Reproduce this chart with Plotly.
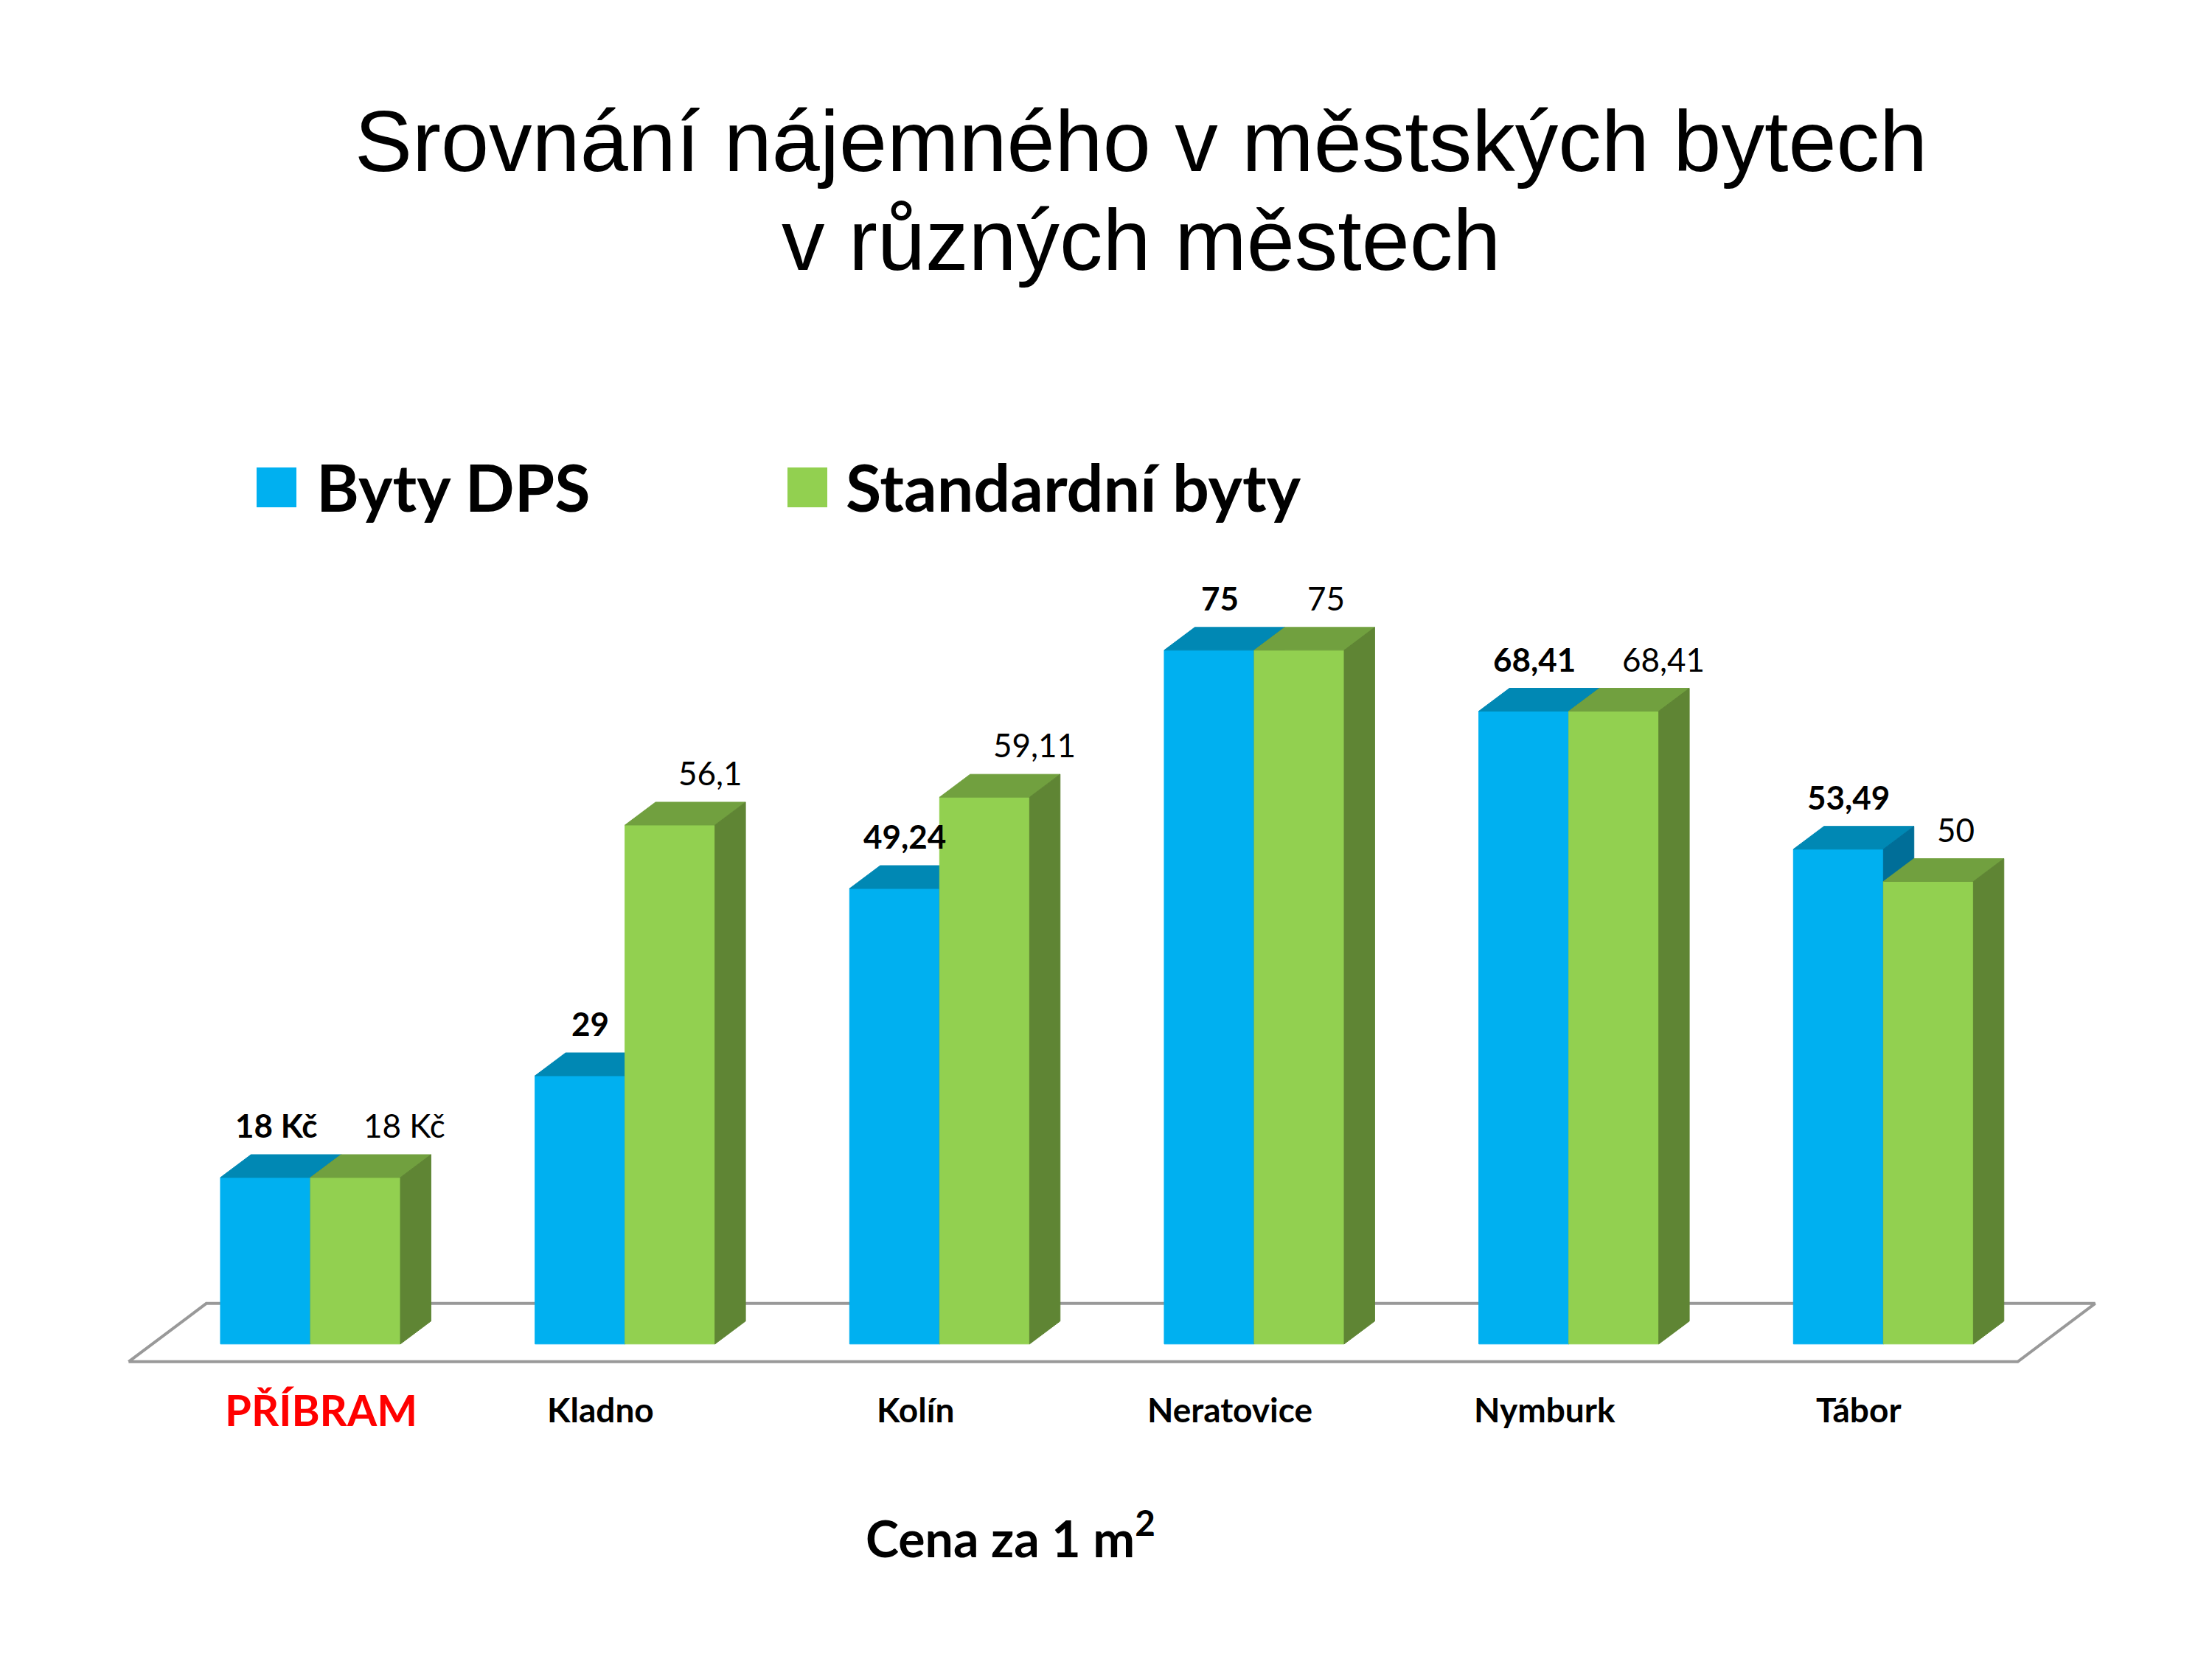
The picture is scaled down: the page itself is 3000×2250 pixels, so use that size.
import plotly.graph_objects as go

# data
cities = ['PŘÍBRAM', 'Kladno', 'Kolín', 'Neratovice', 'Nymburk', 'Tábor']
dps = [18, 29, 49.24, 75, 68.41, 53.49]
standard = [18, 56.1, 59.11, 75, 68.41, 50]
series_names = ['Byty DPS', 'Standardní byty']
unit_first = ' Kč'   # only the Příbram labels carry the unit
title_lines = ['Srovnání nájemného v městských bytech', 'v různých městech']
axis_title = 'Cena za 1 m<sup>2</sup>'

# colours: front, top, side
blue = ['#00B0F0', '#0088B4', '#006E98']
green = ['#92D050', '#71A03F', '#5F8534']

W = 0.286      # bar width in category units
DX = 0.097     # depth offset (x, categories)
DY = 2.47      # depth offset (y, value units)
XR = [-0.75, 5.85]
YR = [-4, 82]
ML, MR, MT, MB = 93, 91, 786, 385
H = 2250


def lab(v, i):
    s = ('%g' % v).replace('.', ',')
    return s + unit_first if i == 0 else s


def poly_trace(polys, color):
    xs, ys = [], []
    for p in polys:
        for (a, b) in p + [p[0]]:
            xs.append(a)
            ys.append(b)
        xs.append(None)
        ys.append(None)
    return go.Scatter(x=xs, y=ys, mode='lines', fill='toself', fillcolor=color,
                      line=dict(color=color, width=1), hoverinfo='skip', showlegend=False)


fig = go.Figure()

# floor
floor = [(-0.578, -1.91), (-0.331, 4.38), (5.673, 4.38), (5.427, -1.91), (-0.578, -1.91)]
fig.add_trace(go.Scatter(x=[p[0] for p in floor], y=[p[1] for p in floor], mode='lines',
                         fill='toself', fillcolor='white', line=dict(color='#999999', width=4),
                         hoverinfo='skip', showlegend=False))

bf, bt, bs, gf, gt, gs = [], [], [], [], [], []
for i, (vb, vg) in enumerate(zip(dps, standard)):
    bf.append([(i - W, 0), (i, 0), (i, vb), (i - W, vb)])
    bt.append([(i - W, vb), (i - W + DX, vb + DY), (i + DX, vb + DY), (i, vb)])
    bs.append([(i, 0), (i + DX, DY), (i + DX, vb + DY), (i, vb)])
    gf.append([(i, 0), (i + W, 0), (i + W, vg), (i, vg)])
    gt.append([(i, vg), (i + DX, vg + DY), (i + W + DX, vg + DY), (i + W, vg)])
    gs.append([(i + W, 0), (i + W + DX, DY), (i + W + DX, vg + DY), (i + W, vg)])

for polys, col in [(bf, blue[0]), (bt, blue[1]), (bs, blue[2]),
                   (gf, green[0]), (gt, green[1]), (gs, green[2])]:
    fig.add_trace(poly_trace(polys, col))

ann = []
# value labels
for i, (vb, vg) in enumerate(zip(dps, standard)):
    ann.append(dict(x=i - W / 2 + 0.033, y=vb + DY, text='<b>%s</b>' % lab(vb, i),
                    xanchor='center', yanchor='bottom', yshift=12, showarrow=False,
                    font=dict(family='Lato', size=44, color='black')))
    ann.append(dict(x=i + 0.165, y=vg + DY, text=lab(vg, i),
                    xanchor='left', yanchor='bottom', yshift=12, showarrow=False,
                    font=dict(family='Lato', size=44, color='black')))


def py(px):
    # pixel row -> paper y
    return (H - MB - px) / (H - MT - MB)


def px2x(px):
    return (px - ML) / (3000 - ML - MR)


# category labels (the highlighted town sits a little further right)
for i, c in enumerate(cities):
    big = i == 0
    ann.append(dict(x=i + (0.033 if big else -0.077), y=py(1903), yref='paper', text='<b>%s</b>' % c,
                    xanchor='center', yanchor='middle', showarrow=False,
                    font=dict(family='Lato', size=58 if big else 46,
                              color='#FF0000' if big else 'black')))

ann.append(dict(x=2.225, y=py(2073), yref='paper', text='<b>%s</b>' % axis_title,
                xanchor='center', yanchor='middle', showarrow=False,
                font=dict(family='Lato', size=68, color='black')))

# title
for k, t in enumerate(title_lines):
    ann.append(dict(x=px2x(1539), xref='paper', y=py([183, 317][k]), yref='paper',
                    text=t, xanchor='center', yanchor='middle', showarrow=False,
                    font=dict(family='Liberation Sans', size=117, color='black')))

# legend (drawn by hand so the swatches can be large)
shapes = []
for (x0, tx), name, col in zip([(340, 419), (1060, 1137)], series_names, [blue[0], green[0]]):
    shapes.append(dict(type='rect', xref='paper', yref='paper', x0=px2x(x0), x1=px2x(x0 + 54),
                       y0=py(680), y1=py(626), fillcolor=col, line=dict(width=0)))
    ann.append(dict(x=px2x(tx), xref='paper', y=py(652), yref='paper', text='<b>%s</b>' % name,
                    xanchor='left', yanchor='middle', showarrow=False,
                    font=dict(family='Lato', size=88, color='black')))

fig.update_layout(
    width=3000, height=H,
    margin=dict(l=ML, r=MR, t=MT, b=MB, autoexpand=False),
    paper_bgcolor='white', plot_bgcolor='white',
    showlegend=False,
    annotations=ann, shapes=shapes,
    xaxis=dict(range=XR, visible=False, fixedrange=True),
    yaxis=dict(range=YR, visible=False, fixedrange=True),
)

fig.write_html("out.html")
